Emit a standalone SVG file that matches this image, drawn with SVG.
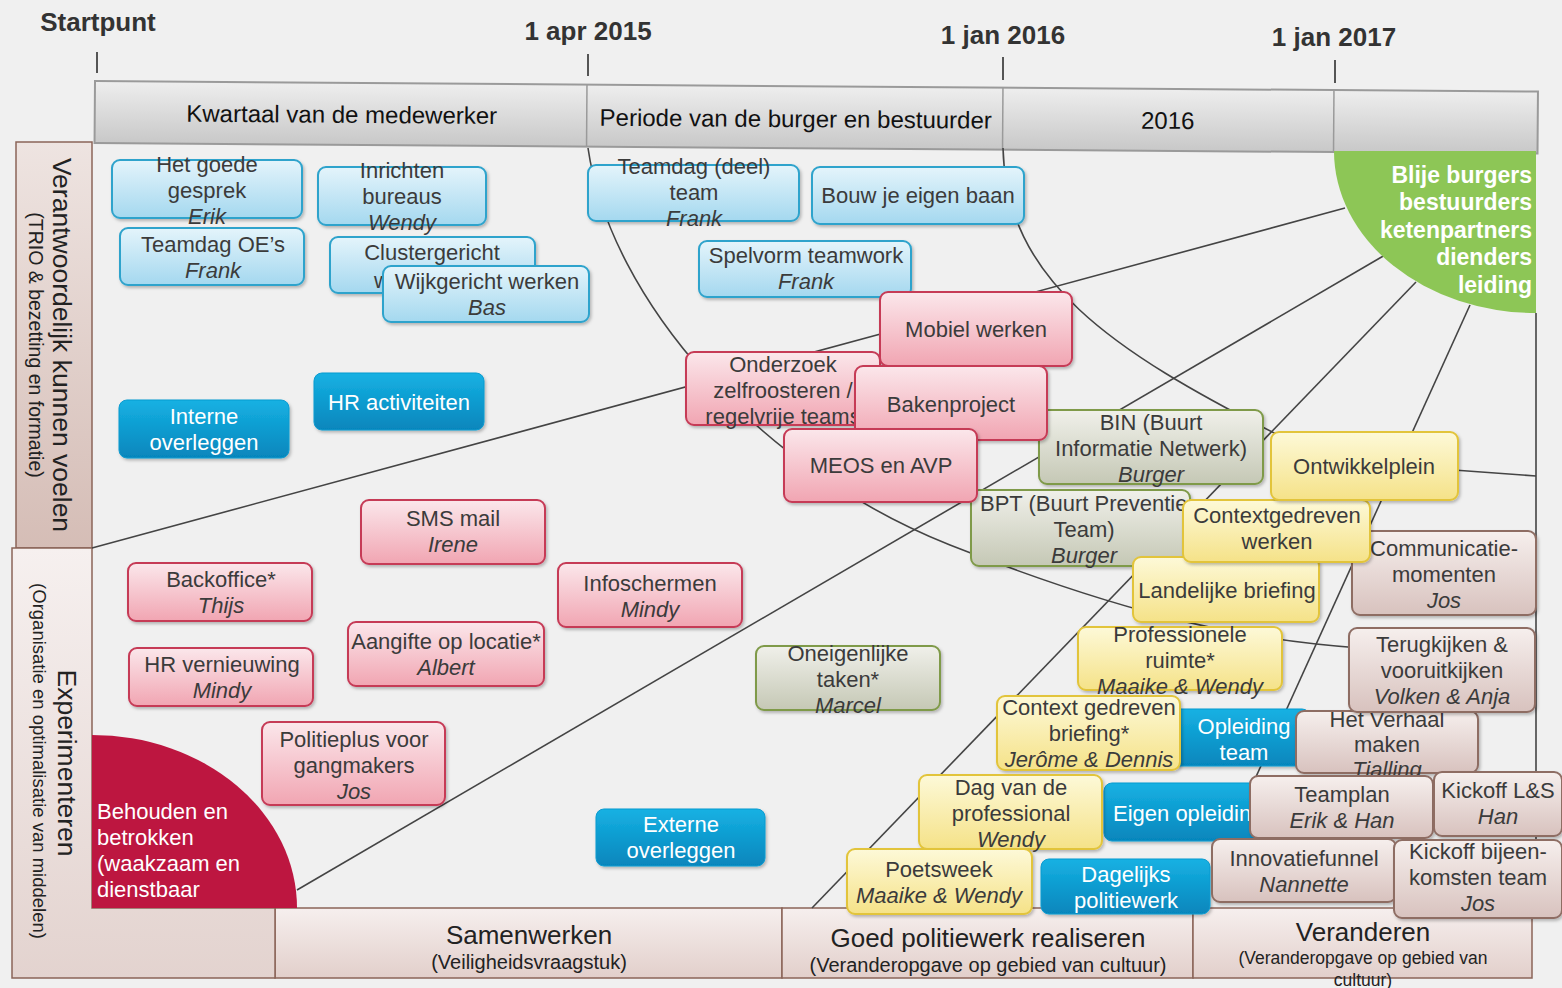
<svg xmlns="http://www.w3.org/2000/svg" width="1562" height="988" viewBox="0 0 1562 988">
  <defs>
    <linearGradient id="gLb" x1="0" y1="0" x2="0" y2="1"><stop offset="0" stop-color="#e4f4fb"/><stop offset="1" stop-color="#a4d8ef"/></linearGradient>
    <linearGradient id="gDb" x1="0" y1="0" x2="0" y2="1"><stop offset="0" stop-color="#16b1e3"/><stop offset="1" stop-color="#0686bc"/></linearGradient>
    <linearGradient id="gPk" x1="0" y1="0" x2="0" y2="1"><stop offset="0" stop-color="#fbe7eb"/><stop offset="1" stop-color="#f1a5b2"/></linearGradient>
    <linearGradient id="gOl" x1="0" y1="0" x2="0" y2="1"><stop offset="0" stop-color="#f0f0ea"/><stop offset="1" stop-color="#c5c8b5"/></linearGradient>
    <linearGradient id="gYl" x1="0" y1="0" x2="0" y2="1"><stop offset="0" stop-color="#fdf9d8"/><stop offset="1" stop-color="#f5e288"/></linearGradient>
    <linearGradient id="gMv" x1="0" y1="0" x2="0" y2="1"><stop offset="0" stop-color="#f6efed"/><stop offset="1" stop-color="#d8c2be"/></linearGradient>
    <linearGradient id="gHdr" x1="0" y1="0" x2="0" y2="1"><stop offset="0" stop-color="#eeeeee"/><stop offset="1" stop-color="#c8c8c8"/></linearGradient>
    <linearGradient id="gColTop" x1="0" y1="0" x2="0" y2="1"><stop offset="0" stop-color="#eee4e1"/><stop offset="1" stop-color="#d5bdb6"/></linearGradient>
    <linearGradient id="gColLow" x1="0" y1="0" x2="0" y2="1"><stop offset="0" stop-color="#f6f0ef"/><stop offset="1" stop-color="#e3d3cf"/></linearGradient>
    <linearGradient id="gFoot" x1="0" y1="0" x2="0" y2="1"><stop offset="0" stop-color="#f6efee"/><stop offset="1" stop-color="#e2cfcb"/></linearGradient>
    <filter id="shadow" x="-10%" y="-10%" width="130%" height="140%">
      <feDropShadow dx="1.5" dy="2" stdDeviation="1.5" flood-color="#000" flood-opacity="0.25"/>
    </filter>
    <style>
      .t { font-family: "Liberation Sans", Arial, sans-serif; font-size: 22px; fill: #3b3b3b; text-anchor: middle; }
      .i { font-style: italic; }
      .s { text-anchor: start; }
      .w { fill: #ffffff; }
      .box { filter: url(#shadow); stroke-width: 2; }
      .lb { fill: url(#gLb); stroke: #2ea3cc; }
      .db { fill: url(#gDb); stroke: #0d9bd0; stroke-width: 1; }
      .pk { fill: url(#gPk); stroke: #c63a56; }
      .ol { fill: url(#gOl); stroke: #7f9a48; }
      .yl { fill: url(#gYl); stroke: #e2c43a; }
      .mv { fill: url(#gMv); stroke: #8e6d64; }
      .date { font-family: "Liberation Sans", Arial, sans-serif; font-size: 26px; font-weight: bold; fill: #333333; text-anchor: middle; }
      .tick { stroke: #555555; stroke-width: 2; }
      .hdr { font-family: "Liberation Sans", Arial, sans-serif; font-size: 24px; fill: #111111; text-anchor: middle; }
      .ax { font-family: "Liberation Sans", Arial, sans-serif; fill: #222222; text-anchor: middle; }
      .frame { stroke: #8b6458; stroke-width: 1.5; }
      .conn { fill: none; stroke: #444444; stroke-width: 1.6; }
    </style>
  </defs>

  <!-- page -->
  <rect x="0" y="0" width="1562" height="988" fill="#f0f0f0"/>

  <!-- timeline dates and ticks -->
  <g id="timeline">
    <text class="date" x="98" y="31">Startpunt</text>
    <text class="date" x="588" y="40">1 apr 2015</text>
    <text class="date" x="1003" y="44">1 jan 2016</text>
    <text class="date" x="1334" y="46">1 jan 2017</text>
    <line class="tick" x1="97" y1="52" x2="97" y2="73"/>
    <line class="tick" x1="588" y1="54" x2="588" y2="76"/>
    <line class="tick" x1="1003" y1="57" x2="1003" y2="80"/>
    <line class="tick" x1="1335" y1="60" x2="1335" y2="83"/>
  </g>

  <!-- period header bar -->
  <g id="header" transform="rotate(0.42 95 81)">
    <rect x="95" y="81" width="1443" height="62" fill="url(#gHdr)" stroke="#9a9a9a" stroke-width="2"/>
    <line x1="587" y1="81" x2="587" y2="143" stroke="#9a9a9a" stroke-width="1.5"/>
    <line x1="1003" y1="81" x2="1003" y2="143" stroke="#9a9a9a" stroke-width="1.5"/>
    <line x1="1334" y1="81" x2="1334" y2="143" stroke="#9a9a9a" stroke-width="1.5"/>
    <text class="hdr" x="342" y="121">Kwartaal van de medewerker</text>
    <text class="hdr" x="796" y="122">Periode van de burger en bestuurder</text>
    <text class="hdr" x="1168" y="121">2016</text>
  </g>

  <!-- bottom axis -->
  <g id="axis-bottom">
    <rect class="frame" x="275" y="908" width="507" height="70" fill="url(#gFoot)"/>
    <rect class="frame" x="782" y="908" width="411" height="70" fill="url(#gFoot)"/>
    <rect class="frame" x="1193" y="908" width="339" height="70" fill="url(#gFoot)"/>
    <text class="ax" font-size="26" x="529" y="944">Samenwerken</text>
    <text class="ax" font-size="20" x="529" y="969">(Veiligheidsvraagstuk)</text>
    <text class="ax" font-size="26" x="988" y="947">Goed politiewerk realiseren</text>
    <text class="ax" font-size="20" x="988" y="972">(Veranderopgave op gebied van cultuur)</text>
    <text class="ax" font-size="26" x="1363" y="941">Veranderen</text>
    <text class="ax" font-size="17.5" x="1363" y="964">(Veranderopgave op gebied van</text>
    <text class="ax" font-size="17.5" x="1363" y="986">cultuur)</text>
  </g>

  <!-- left axis -->
  <g id="axis-left">
    <rect class="frame" x="16" y="142" width="76" height="406" fill="url(#gColTop)"/>
    <path class="frame" d="M12,548 H92 V908 H275 V978 H12 Z" fill="url(#gColLow)"/>
    <text class="ax" font-size="26.5" transform="translate(53 345) rotate(90)">Verantwoordelijk kunnen voelen</text>
    <text class="ax" font-size="19.5" transform="translate(29 345) rotate(90)">(TRIO &amp; bezetting en formatie)</text>
    <text class="ax" font-size="26.5" transform="translate(58 763) rotate(90)">Experimenteren</text>
    <text class="ax" font-size="18.5" transform="translate(33 761) rotate(90)">(Organisatie en optimalisatie van middelen)</text>
  </g>

  <!-- connectors: spokes and arcs -->
  <g id="connectors">
    <line class="conn" x1="1536" y1="313" x2="1536" y2="908"/>
    <line class="conn" x1="1345" y1="208" x2="92" y2="548"/>
    <line class="conn" x1="1385" y1="255" x2="297" y2="890"/>
    <line class="conn" x1="1416" y1="282" x2="812" y2="908"/>
    <line class="conn" x1="1470" y1="305" x2="1250" y2="790"/>
    <line class="conn" x1="1440" y1="469" x2="1536" y2="476"/>
    <path class="conn" d="M588,148 C610,300 760,470 950,545 S1250,640 1360,648"/>
    <path class="conn" d="M1003,148 C1006,280 1110,350 1280,436 S1380,480 1400,490"/>
  </g>

  <!-- outcome quadrants -->
  <g id="goal-green">
    <path d="M1536,151 L1334,151 A202,162 0 0 0 1536,313 Z" fill="#8dc656"/>
    <g font-family="Liberation Sans, Arial, sans-serif" font-size="23" font-weight="bold" fill="#ffffff" text-anchor="end">
      <text x="1532" y="183">Blije burgers</text>
      <text x="1532" y="210">bestuurders</text>
      <text x="1532" y="238">ketenpartners</text>
      <text x="1532" y="265">dienders</text>
      <text x="1532" y="293">leiding</text>
    </g>
  </g>
  <g id="goal-red">
    <path d="M92,908 L92,735 A205,173 0 0 1 297,908 Z" fill="#bd1640"/>
    <g font-family="Liberation Sans, Arial, sans-serif" font-size="22" fill="#ffffff">
      <text x="97" y="819">Behouden en</text>
      <text x="97" y="845">betrokken</text>
      <text x="97" y="871">(waakzaam en</text>
      <text x="97" y="897">dienstbaar</text>
    </g>
  </g>

  <!-- light blue items -->
  <g id="het-goede-gesprek">
    <rect class="box lb" x="112" y="160" width="190" height="58" rx="8"/>
    <text class="t" x="207" y="172">Het goede</text>
    <text class="t" x="207" y="198">gesprek</text>
    <text class="t i" x="207" y="224">Erik</text>
  </g>
  <g id="teamdag-oes">
    <rect class="box lb" x="120" y="228" width="184" height="57" rx="8"/>
    <text class="t" x="213" y="252">Teamdag OE’s</text>
    <text class="t i" x="213" y="278">Frank</text>
  </g>
  <g id="inrichten-bureaus">
    <rect class="box lb" x="318" y="167" width="168" height="58" rx="8"/>
    <text class="t" x="402" y="178">Inrichten</text>
    <text class="t" x="402" y="204">bureaus</text>
    <text class="t i" x="402" y="230">Wendy</text>
  </g>
  <g id="clustergericht">
    <rect class="box lb" x="330" y="237" width="205" height="56" rx="8"/>
    <text class="t" x="432" y="260">Clustergericht</text>
    <text class="t s" x="374" y="288">w</text>
  </g>
  <g id="wijkgericht-werken">
    <rect class="box lb" x="383" y="266" width="206" height="56" rx="8"/>
    <text class="t" x="487" y="289">Wijkgericht werken</text>
    <text class="t i" x="487" y="315">Bas</text>
  </g>
  <g id="teamdag-deel-team">
    <rect class="box lb" x="588" y="165" width="211" height="56" rx="8"/>
    <text class="t" x="694" y="174">Teamdag (deel)</text>
    <text class="t" x="694" y="200">team</text>
    <text class="t i" x="694" y="226">Frank</text>
  </g>
  <g id="bouw-je-eigen-baan">
    <rect class="box lb" x="812" y="167" width="212" height="57" rx="8"/>
    <text class="t" x="918" y="203">Bouw je eigen baan</text>
  </g>
  <g id="spelvorm-teamwork">
    <rect class="box lb" x="699" y="241" width="212" height="56" rx="8"/>
    <text class="t" x="806" y="263">Spelvorm teamwork</text>
    <text class="t i" x="806" y="289">Frank</text>
  </g>

  <!-- dark blue items -->
  <g id="interne-overleggen">
    <rect class="box db" x="119" y="400" width="170" height="58" rx="8"/>
    <text class="t w" x="204" y="424">Interne</text>
    <text class="t w" x="204" y="450">overleggen</text>
  </g>
  <g id="hr-activiteiten">
    <rect class="box db" x="314" y="373" width="170" height="57" rx="8"/>
    <text class="t w" x="399" y="410">HR activiteiten</text>
  </g>
  <g id="externe-overleggen">
    <rect class="box db" x="596" y="809" width="169" height="57" rx="8"/>
    <text class="t w" x="681" y="832">Externe</text>
    <text class="t w" x="681" y="858">overleggen</text>
  </g>

  <!-- pink items -->
  <g id="sms-mail">
    <rect class="box pk" x="361" y="500" width="184" height="64" rx="8"/>
    <text class="t" x="453" y="526">SMS mail</text>
    <text class="t i" x="453" y="552">Irene</text>
  </g>
  <g id="backoffice">
    <rect class="box pk" x="128" y="563" width="184" height="58" rx="8"/>
    <text class="t" x="221" y="587">Backoffice*</text>
    <text class="t i" x="221" y="613">Thijs</text>
  </g>
  <g id="infoschermen">
    <rect class="box pk" x="558" y="563" width="184" height="64" rx="8"/>
    <text class="t" x="650" y="591">Infoschermen</text>
    <text class="t i" x="650" y="617">Mindy</text>
  </g>
  <g id="aangifte-op-locatie">
    <rect class="box pk" x="348" y="622" width="196" height="64" rx="8"/>
    <text class="t" x="446" y="649">Aangifte op locatie*</text>
    <text class="t i" x="446" y="675">Albert</text>
  </g>
  <g id="hr-vernieuwing">
    <rect class="box pk" x="129" y="648" width="184" height="58" rx="8"/>
    <text class="t" x="222" y="672">HR vernieuwing</text>
    <text class="t i" x="222" y="698">Mindy</text>
  </g>
  <g id="politieplus">
    <rect class="box pk" x="262" y="722" width="183" height="83" rx="8"/>
    <text class="t" x="354" y="747">Politieplus voor</text>
    <text class="t" x="354" y="773">gangmakers</text>
    <text class="t i" x="354" y="799">Jos</text>
  </g>
  <g id="onderzoek-zelfroosteren">
    <rect class="box pk" x="686" y="352" width="194" height="73" rx="8"/>
    <text class="t" x="783" y="372">Onderzoek</text>
    <text class="t" x="783" y="398">zelfroosteren /</text>
    <text class="t" x="783" y="424">regelvrije teams</text>
  </g>
  <g id="mobiel-werken">
    <rect class="box pk" x="880" y="292" width="192" height="74" rx="8"/>
    <text class="t" x="976" y="337">Mobiel werken</text>
  </g>
  <g id="bin">
    <rect class="box ol" x="1039" y="410" width="224" height="74" rx="8"/>
    <text class="t" x="1151" y="430">BIN (Buurt</text>
    <text class="t" x="1151" y="456">Informatie Netwerk)</text>
    <text class="t i" x="1151" y="482">Burger</text>
  </g>
  <g id="bpt">
    <rect class="box ol" x="971" y="490" width="219" height="76" rx="8"/>
    <text class="t s" x="980" y="511">BPT (Buurt Preventie</text>
    <text class="t" x="1084" y="537">Team)</text>
    <text class="t i" x="1084" y="563">Burger</text>
  </g>
  <g id="bakenproject">
    <rect class="box pk" x="855" y="366" width="192" height="74" rx="8"/>
    <text class="t" x="951" y="412">Bakenproject</text>
  </g>
  <g id="meos-en-avp">
    <rect class="box pk" x="784" y="429" width="193" height="73" rx="8"/>
    <text class="t" x="881" y="473">MEOS en AVP</text>
  </g>

  <!-- olive item -->
  <g id="oneigenlijke-taken">
    <rect class="box ol" x="756" y="646" width="184" height="64" rx="8"/>
    <text class="t" x="848" y="661">Oneigenlijke</text>
    <text class="t" x="848" y="687">taken*</text>
    <text class="t i" x="848" y="713">Marcel</text>
  </g>

  <!-- right cluster -->
  <g id="communicatiemomenten">
    <rect class="box mv" x="1352" y="531" width="184" height="84" rx="8"/>
    <text class="t" x="1444" y="556">Communicatie-</text>
    <text class="t" x="1444" y="582">momenten</text>
    <text class="t i" x="1444" y="608">Jos</text>
  </g>
  <g id="landelijke-briefing">
    <rect class="box yl" x="1133" y="557" width="186" height="65" rx="8"/>
    <text class="t" x="1227" y="598">Landelijke briefing</text>
  </g>
  <g id="contextgedreven-werken">
    <rect class="box yl" x="1183" y="500" width="187" height="62" rx="8"/>
    <text class="t" x="1277" y="523">Contextgedreven</text>
    <text class="t" x="1277" y="549">werken</text>
  </g>
  <g id="ontwikkelplein">
    <rect class="box yl" x="1271" y="432" width="187" height="68" rx="8"/>
    <text class="t" x="1364" y="474">Ontwikkelplein</text>
  </g>
  <g id="professionele-ruimte">
    <rect class="box yl" x="1078" y="627" width="204" height="63" rx="8"/>
    <text class="t" x="1180" y="642">Professionele</text>
    <text class="t" x="1180" y="668">ruimte*</text>
    <text class="t i" x="1180" y="694">Maaike &amp; Wendy</text>
  </g>
  <g id="opleiding-team">
    <rect class="box db" x="1170" y="709" width="140" height="57" rx="8"/>
    <text class="t w" x="1244" y="734">Opleiding</text>
    <text class="t w" x="1244" y="760">team</text>
  </g>
  <g id="context-gedreven-briefing">
    <rect class="box yl" x="997" y="696" width="183" height="74" rx="8"/>
    <text class="t" x="1089" y="715">Context gedreven</text>
    <text class="t" x="1089" y="741">briefing*</text>
    <text class="t i" x="1089" y="767">Jerôme &amp; Dennis</text>
  </g>
  <g id="het-verhaal-maken">
    <rect class="box mv" x="1296" y="711" width="182" height="62" rx="8"/>
    <text class="t" x="1387" y="727">Het Verhaal</text>
    <text class="t" x="1387" y="752">maken</text>
    <text class="t i" x="1387" y="777">Tialling</text>
  </g>
  <g id="terugkijken-vooruitkijken">
    <rect class="box mv" x="1349" y="628" width="186" height="84" rx="8"/>
    <text class="t" x="1442" y="652">Terugkijken &amp;</text>
    <text class="t" x="1442" y="678">vooruitkijken</text>
    <text class="t i" x="1442" y="704">Volken &amp; Anja</text>
  </g>
  <g id="eigen-opleiding">
    <rect class="box db" x="1104" y="783" width="161" height="58" rx="8"/>
    <text class="t w s" x="1113" y="821">Eigen opleiding</text>
  </g>
  <g id="dag-van-de-professional">
    <rect class="box yl" x="919" y="775" width="183" height="74" rx="8"/>
    <text class="t" x="1011" y="795">Dag van de</text>
    <text class="t" x="1011" y="821">professional</text>
    <text class="t i" x="1011" y="847">Wendy</text>
  </g>
  <g id="poetsweek">
    <rect class="box yl" x="847" y="849" width="185" height="65" rx="8"/>
    <text class="t" x="939" y="877">Poetsweek</text>
    <text class="t i" x="939" y="903">Maaike &amp; Wendy</text>
  </g>
  <g id="dagelijks-politiewerk">
    <rect class="box db" x="1041" y="859" width="169" height="55" rx="8"/>
    <text class="t w" x="1126" y="882">Dagelijks</text>
    <text class="t w" x="1126" y="908">politiewerk</text>
  </g>
  <g id="teamplan">
    <rect class="box mv" x="1250" y="776" width="183" height="62" rx="8"/>
    <text class="t" x="1342" y="802">Teamplan</text>
    <text class="t i" x="1342" y="828">Erik &amp; Han</text>
  </g>
  <g id="kickoff-ls">
    <rect class="box mv" x="1434" y="772" width="128" height="64" rx="8"/>
    <text class="t" x="1498" y="798">Kickoff L&amp;S</text>
    <text class="t i" x="1498" y="824">Han</text>
  </g>
  <g id="innovatiefunnel">
    <rect class="box mv" x="1212" y="839" width="184" height="63" rx="8"/>
    <text class="t" x="1304" y="866">Innovatiefunnel</text>
    <text class="t i" x="1304" y="892">Nannette</text>
  </g>
  <g id="kickoff-bijeenkomsten">
    <rect class="box mv" x="1394" y="840" width="168" height="78" rx="8"/>
    <text class="t" x="1478" y="859">Kickoff bijeen-</text>
    <text class="t" x="1478" y="885">komsten team</text>
    <text class="t i" x="1478" y="911">Jos</text>
  </g>
</svg>
